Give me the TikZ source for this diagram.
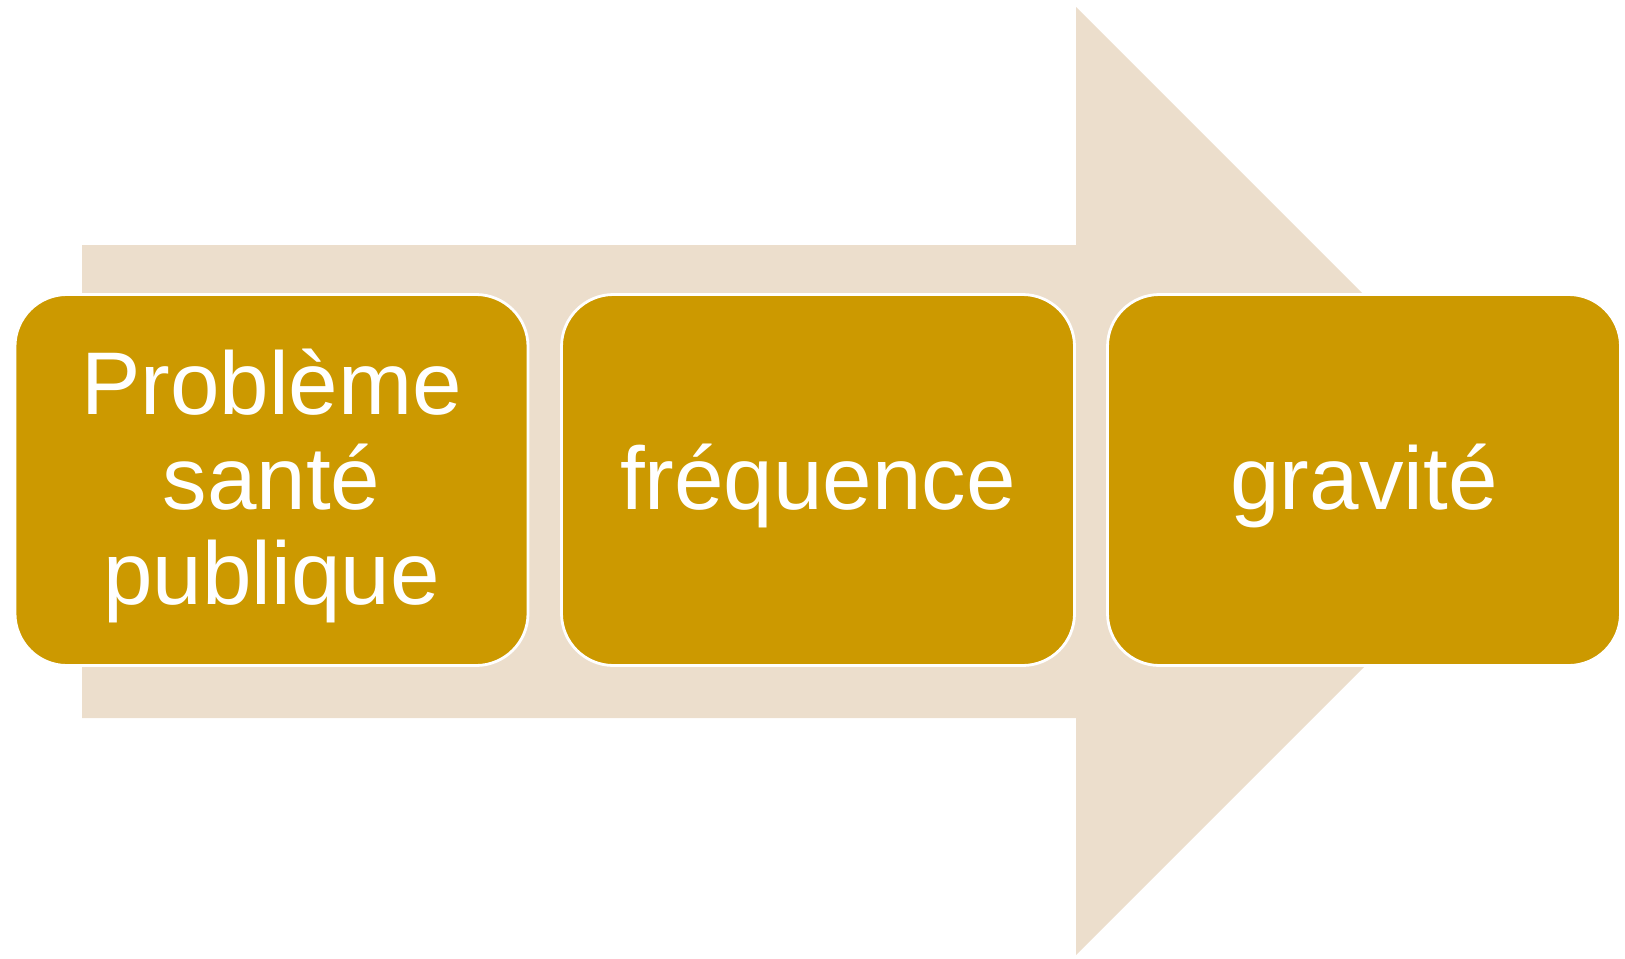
\documentclass[tikz,border=0pt]{standalone}
\usepackage{fontspec}
\setmainfont{Liberation Sans}
\definecolor{arrowfill}{RGB}{236,222,204}
\definecolor{boxfill}{RGB}{204,153,0}
\begin{document}
\begin{tikzpicture}[x=0.5pt,y=-0.5pt,
  stagebox/.style={draw=white, line width=1.4pt, fill=boxfill, rounded corners=26pt,
    minimum width=256.5pt, minimum height=185.5pt, inner sep=0pt},
  stagetext/.style={text=white, align=center, inner sep=0pt,
    font=\fontsize{44.5}{47.5}\selectfont}]
  \useasboundingbox (0,0) rectangle (1625,958);
  % large background arrow
  \fill[arrowfill] (82,245) -- (1076,245) -- (1076,7) -- (1550,481)
    -- (1076,955) -- (1076,718) -- (82,718) -- cycle;
  % the three stages
  \node[stagebox] (s1) at (271.5,480) {};
  \node[stagebox] (s2) at (818,480) {};
  \node[stagebox] (s3) at (1364,480) {};
  % their labels, set a little below the centre
  \node[stagetext] (t1) at ([yshift=-3pt]s1.center) {Problème\\santé\\publique};
  \node[stagetext] (t2) at ([yshift=-3pt]s2.center) {fréquence};
  \node[stagetext] (t3) at ([yshift=-3pt]s3.center) {gravité};
\end{tikzpicture}
\end{document}
